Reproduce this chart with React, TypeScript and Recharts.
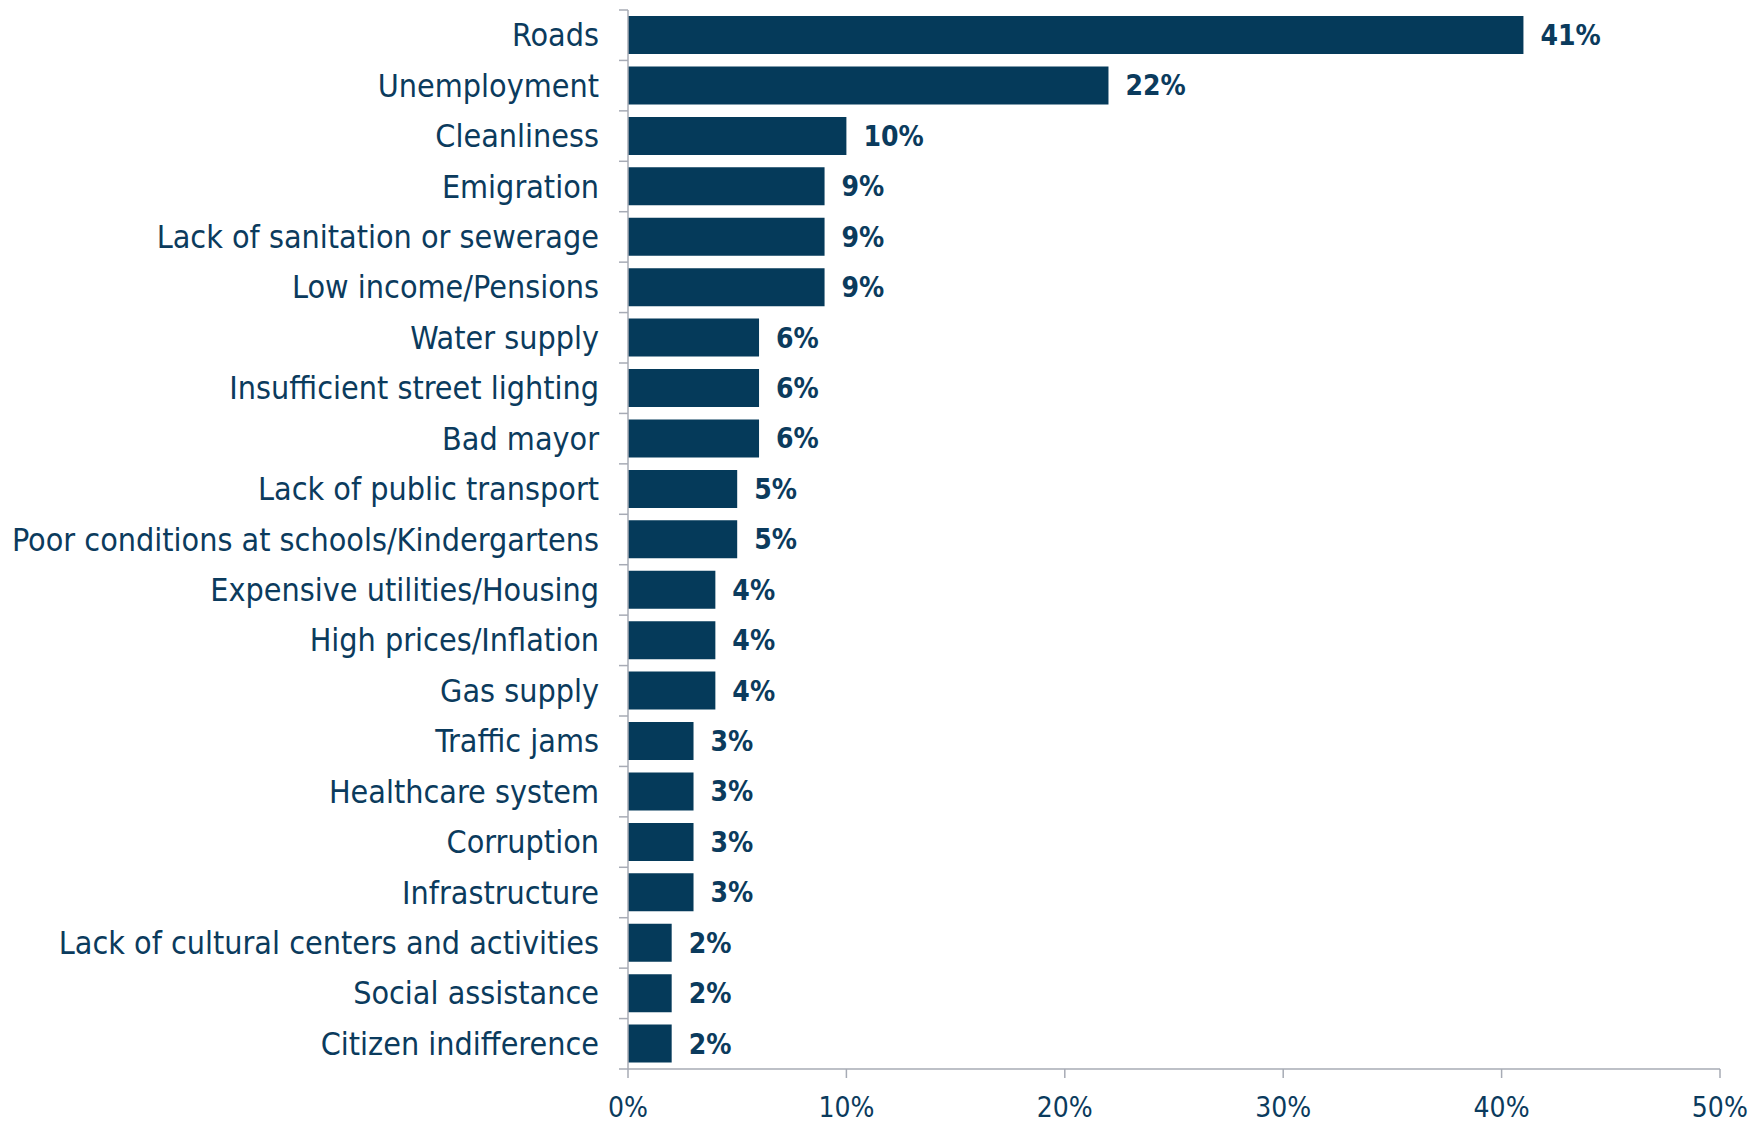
import React from 'react';
import { Bar, BarChart, XAxis, YAxis, LabelList } from 'recharts';

const categories = [
  'Roads',
  'Unemployment',
  'Cleanliness',
  'Emigration',
  'Lack of sanitation or sewerage',
  'Low income/Pensions',
  'Water supply',
  'Insufficient street lighting',
  'Bad mayor',
  'Lack of public transport',
  'Poor conditions at schools/Kindergartens',
  'Expensive utilities/Housing',
  'High prices/Inflation',
  'Gas supply',
  'Traffic jams',
  'Healthcare system',
  'Corruption',
  'Infrastructure',
  'Lack of cultural centers and activities',
  'Social assistance',
  'Citizen indifference',
];

const shares = [41, 22, 10, 9, 9, 9, 6, 6, 6, 5, 5, 4, 4, 4, 3, 3, 3, 3, 2, 2, 2];

const xTicks = [0, 10, 20, 30, 40, 50];

const data = categories.map((name, i) => ({ name, value: shares[i] }));

const NAVY = '#053A5A';
const TEXT = '#0B3B5D';
const AXIS = '#A7ABB5';
const FONT = '"DejaVu Sans Condensed", "DejaVu Sans", sans-serif';

// category labels with Excel-style tick marks between the bands
function CategoryTick(props: any) {
  const { x, y, payload, index } = props;
  const half = payload && payload.offset ? payload.offset : 25.2;
  const last = index === categories.length - 1;
  return (
    <g>
      <line x1={x - 9} x2={x} y1={y - half} y2={y - half} stroke={AXIS} strokeWidth={1.5} />
      {last && <line x1={x - 9} x2={x} y1={y + half} y2={y + half} stroke={AXIS} strokeWidth={1.5} />}
      <text x={x - 29} y={y} textAnchor="end" dominantBaseline="central" fill={TEXT} fontSize={32} fontFamily={FONT}>
        {payload.value}
      </text>
    </g>
  );
}

export default function App() {
  return (
    <div style={{ position: 'absolute', left: 0, top: 0, background: '#fff' }}>
      <BarChart
        width={1750}
        height={1123}
        data={data}
        layout="vertical"
        margin={{ top: 10, right: 30, bottom: 0, left: 0 }}
        barCategoryGap="12%"
      >
        <XAxis
          type="number"
          domain={[0, 50]}
          ticks={xTicks}
          tickFormatter={(v: number) => `${v}%`}
          height={54}
          axisLine={{ stroke: AXIS, strokeWidth: 1.5 }}
          tickLine={{ stroke: AXIS, strokeWidth: 1.5 }}
          tickSize={9}
          tickMargin={19}
          tick={{ fill: TEXT, fontSize: 28, fontFamily: FONT }}
        />
        <YAxis
          type="category"
          dataKey="name"
          width={628}
          axisLine={{ stroke: AXIS, strokeWidth: 1.5 }}
          tickLine={false}
          tickSize={0}
          tickMargin={0}
          interval={0}
          tick={<CategoryTick />}
        />
        <Bar dataKey="value" fill={NAVY} isAnimationActive={false}>
          <LabelList
            dataKey="value"
            position="right"
            offset={17}
            formatter={(v: number) => `${v}%`}
            style={{ fill: TEXT, fontSize: 28, fontWeight: 'bold', fontFamily: FONT }}
          />
        </Bar>
      </BarChart>
    </div>
  );
}
